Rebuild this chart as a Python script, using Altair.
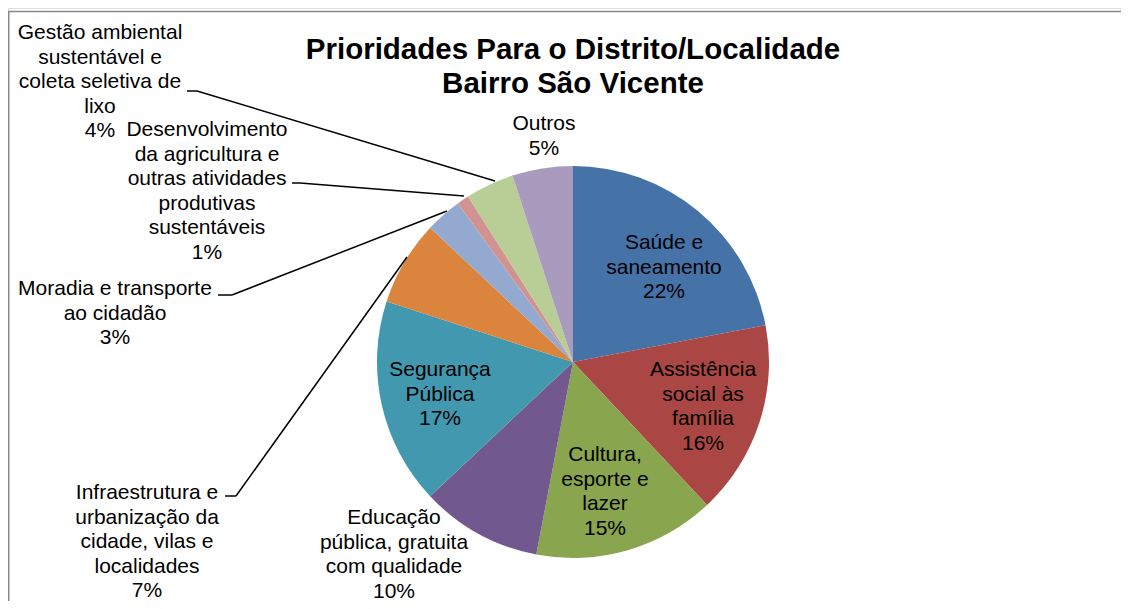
import altair as alt
import pandas as pd

# ---------------- data ----------------
categories = [
    "Saúde e saneamento",
    "Assistência social às família",
    "Cultura, esporte e lazer",
    "Educação pública, gratuita com qualidade",
    "Segurança Pública",
    "Infraestrutura e urbanização da cidade, vilas e localidades",
    "Moradia e transporte ao cidadão",
    "Desenvolvimento da agricultura e outras atividades produtivas sustentáveis",
    "Gestão ambiental sustentável e coleta seletiva de lixo",
    "Outros",
]
values = [22, 16, 15, 10, 17, 7, 3, 1, 4, 5]
label_lines = [
    ["Saúde e", "saneamento"],
    ["Assistência", "social às", "família"],
    ["Cultura,", "esporte e", "lazer"],
    ["Educação", "pública, gratuita", "com qualidade"],
    ["Segurança", "Pública"],
    ["Infraestrutura e", "urbanização da", "cidade, vilas e", "localidades"],
    ["Moradia e transporte", "ao cidadão"],
    ["Desenvolvimento", "da agricultura e", "outras atividades", "produtivas", "sustentáveis"],
    ["Gestão ambiental", "sustentável e", "coleta seletiva de", "lixo"],
    ["Outros"],
]
colors = ["#4572A7", "#AA4643", "#89A54E", "#71588F", "#4198AF",
          "#DB843D", "#93A9CF", "#D19392", "#B9CD96", "#A99BBD"]
title_lines = ["Prioridades Para o Distrito/Localidade", "Bairro São Vicente"]

# ---------------- layout (page pixels; y = centre of first line) ----------------
OX, OY = 8, 8
W, H = 1113, 593
PIE_CX, PIE_CY, PIE_R = 573, 362, 196
label_pos = [(664, 243), (703, 370), (605, 455), (394, 518), (440, 370),
             (147, 493), (115, 289), (207, 130), (100, 33), (544, 124)]
leaders = {  # polyline points for small slices
    5: [(225, 496), (236, 496), (407, 257)],
    6: [(218, 295), (232, 295), (447, 211)],
    7: [(292, 183), (300, 183), (464, 196)],
    8: [(187, 91), (197, 91), (495, 181)],
}
LABEL_FS = 21
LINE_H = 24.5
FONT = "Liberation Sans"

# ---------------- tables ----------------
df = pd.DataFrame({
    "cat": categories,
    "value": values,
    "order": list(range(len(categories))),
})

lab_rows = []
for i, lines in enumerate(label_lines):
    txt = lines + [f"{values[i]}%"]
    lab_rows.append({
        "text": "\n".join(txt),
        "x": label_pos[i][0] - OX,
        "y": label_pos[i][1] - OY,
    })
lab_df = pd.DataFrame(lab_rows)

seg_rows = []
for k, pts in leaders.items():
    for a, b in zip(pts[:-1], pts[1:]):
        seg_rows.append({"x": a[0] - OX, "y": a[1] - OY,
                         "x2": b[0] - OX, "y2": b[1] - OY})
seg_df = pd.DataFrame(seg_rows)

xs = alt.Scale(domain=[0, W], range=[0, W], nice=False, zero=False)
ys = alt.Scale(domain=[0, H], range=[0, H], nice=False, zero=False)

pie = alt.Chart(df).mark_arc(outerRadius=PIE_R, stroke=None).encode(
    theta=alt.Theta("value:Q", stack=True),
    order=alt.Order("order:Q"),
    color=alt.Color("cat:N", scale=alt.Scale(domain=categories, range=colors), legend=None),
    x=alt.value(PIE_CX - OX),
    y=alt.value(PIE_CY - OY),
)

labels = alt.Chart(lab_df).mark_text(
    font=FONT, fontSize=LABEL_FS, lineHeight=LINE_H, lineBreak="\n",
    align="center", baseline="middle", color="#000000",
).encode(
    x=alt.X("x:Q", scale=xs, axis=None),
    y=alt.Y("y:Q", scale=ys, axis=None),
    text="text:N",
)

lead = alt.Chart(seg_df).mark_rule(color="#000000", strokeWidth=1.5).encode(
    x=alt.X("x:Q", scale=xs, axis=None),
    y=alt.Y("y:Q", scale=ys, axis=None),
    x2="x2:Q", y2="y2:Q",
)

title_df = pd.DataFrame({"text": ["\n".join(title_lines)],
                         "x": [573 - OX], "y": [50 - OY]})
title = alt.Chart(title_df).mark_text(
    font=FONT, fontSize=29.5, fontWeight="bold", lineHeight=34, lineBreak="\n",
    align="center", baseline="middle", color="#000000",
).encode(
    x=alt.X("x:Q", scale=xs, axis=None),
    y=alt.Y("y:Q", scale=ys, axis=None),
    text="text:N",
)

frame_top = alt.Chart(pd.DataFrame({"a": [0]})).mark_rule(color="#888888", strokeWidth=1.5).encode(
    x=alt.value(0), x2=alt.value(W), y=alt.value(11.5 - OY))
frame_left = alt.Chart(pd.DataFrame({"a": [0]})).mark_rule(color="#888888", strokeWidth=1.5).encode(
    x=alt.value(0.75), y=alt.value(11.5 - OY), y2=alt.value(H))

chart = alt.layer(frame_top, frame_left, pie, lead, labels, title).properties(
    width=W, height=H,
    autosize=alt.AutoSizeParams(type="none"),
    padding=0,
).configure_view(stroke=None).configure(background="white")

chart.save("out.html", embed_options={"renderer": "svg", "actions": False})
